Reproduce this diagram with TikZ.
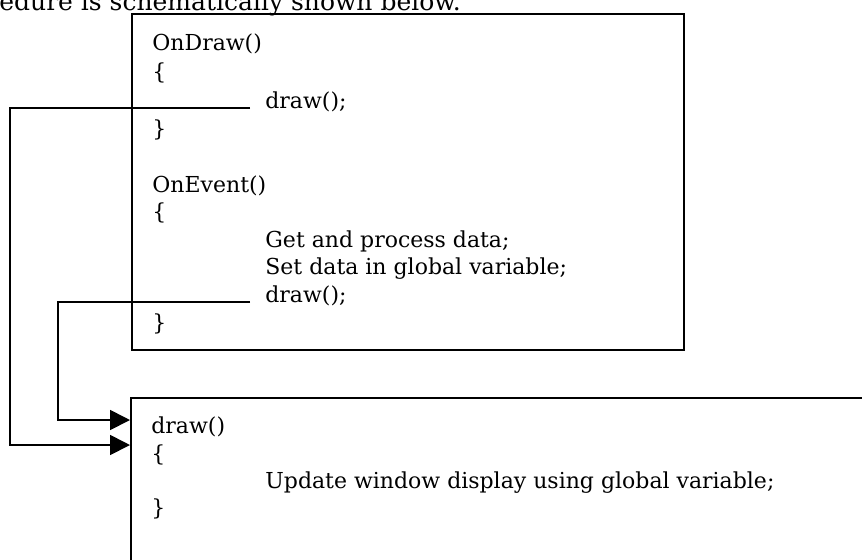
\documentclass[tikz,border=0pt]{standalone}
\usepackage{fontspec}
\setmainfont{DejaVu Serif}
\usetikzlibrary{arrows.meta,positioning,calc}

\begin{document}
\begin{tikzpicture}[x=0.5pt,y=-0.5pt,
    code/.style={anchor=base west, inner sep=0pt, font=\fontsize{11}{13}\selectfont},
    box/.style={draw, line width=0.9pt, anchor=north west, inner sep=0pt},
    call/.style={line width=0.9pt, -{Triangle[length=10pt,width=10pt]}}]
    \useasboundingbox (0,0) rectangle (862,559);
    \clip (0,0) rectangle (862,559);

    % Text above (cut off)
    \node[anchor=base west, inner sep=0pt, font=\fontsize{12.5}{15}\selectfont] (intro) at (-1,10) {edure is schematically shown below.};

    % Event handlers
    \node[box, minimum width=276pt, minimum height=168pt] (handlers) at (131,13) {};
    \node[code] (ondraw) at (152,50) {OnDraw()};
    \node[code] (openA) at (152,79) {\{};
    \node[code] (callA) at (265,108) {draw();};
    \node[code] (closeA) at (152,136) {\}};
    \node[code] (onevent) at (152,192) {OnEvent()};
    \node[code] (openB) at (152,219) {\{};
    \node[code] (getdata) at (265,247) {Get and process data;};
    \node[code] (setdata) at (265,274) {Set data in global variable;};
    \node[code] (callB) at (265,302) {draw();};
    \node[code] (closeB) at (152,330) {\}};

    % Drawing routine
    \node[box, minimum width=385pt, minimum height=101.5pt] (drawproc) at (130,397) {};
    \node[code] (drawhead) at (151,433) {draw()};
    \node[code] (openC) at (151,461) {\{};
    \node[code] (update) at (265,488) {Update window display using global variable;};
    \node[code] (closeC) at (151,515) {\}};

    % Calls
    \draw[call] ([xshift=-7.5pt]callA.base west) -- ++(-240,0) |- ([yshift=-24pt]drawproc.north west);
    \draw[call] ([xshift=-7.5pt]callB.base west) -- ++(-192,0) |- ([yshift=-11.5pt]drawproc.north west);
\end{tikzpicture}
\end{document}
